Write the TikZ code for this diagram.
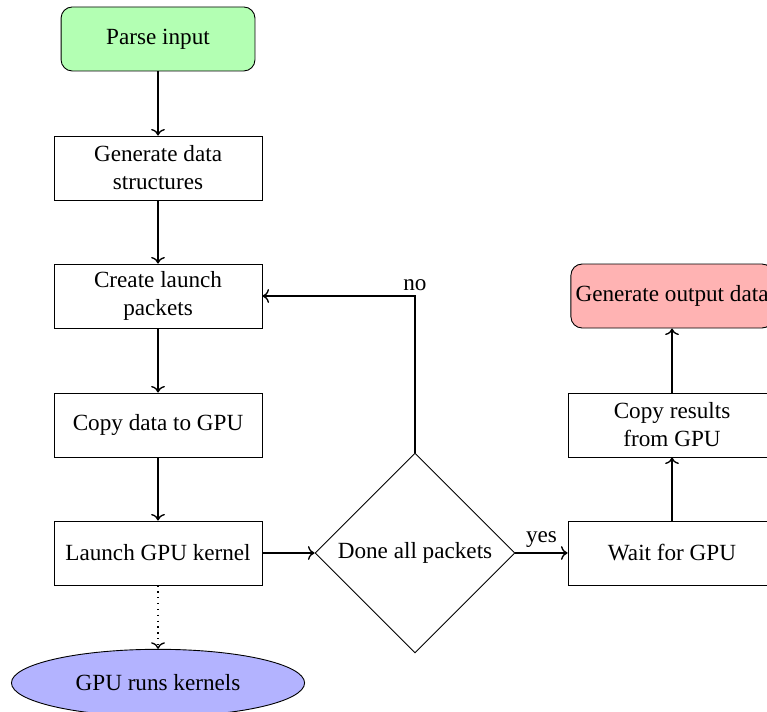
\documentclass[tikz,border=0pt]{standalone}
\usepackage{fontspec}
\setmainfont{Liberation Serif}
\usetikzlibrary{shapes.geometric,arrows.meta}
\definecolor{startgreen}{RGB}{179,255,179}
\definecolor{endred}{RGB}{255,179,179}
\definecolor{gpublue}{RGB}{179,179,255}
\begin{document}
\begin{tikzpicture}[
  font=\fontsize{10.3}{12.4}\selectfont,
  every node/.style={align=center},
  procbox/.style={draw, rectangle, minimum width=3.25cm, minimum height=1cm, inner sep=2pt},
  termbox/.style={draw, rectangle, rounded corners=5pt, minimum width=3.03cm, minimum height=1cm, inner sep=2pt},
  decbox/.style={draw, diamond, minimum width=3.125cm, minimum height=3.125cm, inner sep=0pt, aspect=1},
  gpuell/.style={draw, ellipse, fill=gpublue, minimum width=4.58cm, minimum height=1.05cm},
  flow/.style={->, semithick},
  dotflow/.style={->, semithick, dotted}
]
\useasboundingbox (0,0) rectangle (11.984,-11.109);

\node[termbox, fill=startgreen] (parse) at (2.469,-0.609) {Parse input};
\node[procbox] (gen) at (2.469,-2.625) {Generate data\\structures};
\node[procbox] (create) at (2.469,-4.625) {Create launch\\packets};
\node[procbox] (copy) at (2.469,-6.64) {Copy data to GPU};
\node[procbox] (launch) at (2.469,-8.64) {Launch GPU kernel};
\node[gpuell] (runs) at (2.469,-10.67) {GPU runs kernels};
\node[decbox] (done) at (6.484,-8.64) {Done all packets};
\node[procbox] (wait) at (10.5,-8.64) {Wait for GPU};
\node[procbox] (res) at (10.5,-6.64) {Copy results\\from GPU};
\node[termbox, fill=endred, minimum width=3.16cm] (out) at (10.5,-4.625) {Generate output data};
\coordinate (corner) at (6.484,-4.625);

\draw[flow] (parse) -- (gen);
\draw[flow] (gen) -- (create);
\draw[flow] (create) -- (copy);
\draw[flow] (copy) -- (launch);
\draw[dotflow] (launch) -- (runs);
\draw[flow] (launch) -- (done);
\draw[flow] (done) -- node[above, pos=0.5, yshift=-1pt] (yes) {yes} (wait);
\draw[flow] (wait) -- (res);
\draw[flow] (res) -- (out);
\draw[flow] (done.north) -- (corner) -- (create.east);
\node[above=-1pt] (no) at (corner) {no};
\end{tikzpicture}
\end{document}
